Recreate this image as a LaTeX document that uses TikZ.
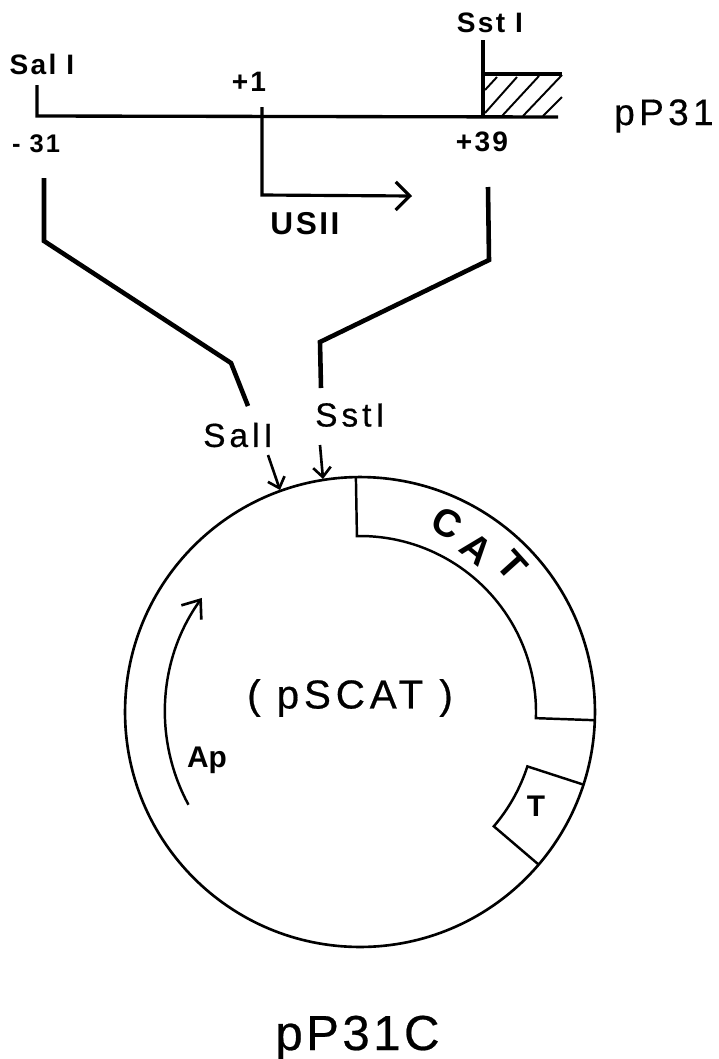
\documentclass[tikz,border=0pt]{standalone}
\usepackage{fontspec}
\setmainfont{Liberation Sans}
\newfontfamily\labelfont[LetterSpace=8]{Liberation Sans}
\newfontfamily\widefont[LetterSpace=12,FakeBold=0.5]{Liberation Sans}
\newfontfamily\hugefont[LetterSpace=7,FakeBold=0.5]{Liberation Sans}
\usetikzlibrary{arrows.meta, positioning, calc}
\tikzset{
  seqline/.style={line width=1.9pt, black},
  thinline/.style={line width=1.4pt, black},
  linker/.style={line width=2.6pt, black},
  hatchline/.style={line width=1.1pt, black},
  sitearrow/.style={line width=1.5pt, -{Straight Barb[length=5.5pt,width=10pt,line width=1.5pt]}},
  smalllabel/.style={font=\fontsize{16}{16}\labelfont\bfseries},
  boldlabel/.style={font=\fontsize{17}{17}\bfseries},
  catlabel/.style={font=\fontsize{22}{22}\bfseries, inner sep=0pt},
  sitelabel/.style={font=\fontsize{19}{19}\widefont},
  namelabel/.style={font=\fontsize{21}{21}\widefont},
}
\begin{document}
\begin{tikzpicture}[x=0.02cm, y=-0.02cm]
  \useasboundingbox (0,0) rectangle (718,1059);

  % Upper map -- pP31
  \coordinate (saltop) at (37,85);
  \coordinate (salbase) at (37,116);
  \coordinate (sstop) at (483,40);
  \coordinate (ssbase) at (483,117);
  \coordinate (lineend) at (558,117);
  \coordinate (boxtop) at (483,74);
  \coordinate (boxright) at (562,74);
  \coordinate (starttop) at (262,107);
  \coordinate (startbend) at (262,195);
  \coordinate (starttip) at (412,196);
  \draw[seqline] (saltop) -- (salbase) -- (lineend);
  \draw[seqline] (sstop) -- (ssbase);
  \draw[seqline] (boxtop) -- (boxright);
  \draw[thinline, line width=1.8pt, -{Straight Barb[length=8pt,width=16pt,line width=1.8pt]}]
       (starttop) -- (startbend) -- (starttip);

  % Hatching
  \draw[hatchline] (497,77) -- (485,90);
  \draw[hatchline] (517,77) -- (485,113);
  \draw[hatchline] (539,76) -- (502,116);
  \draw[hatchline] (562,75) -- (523,116);
  \draw[hatchline] (562,97) -- (543,116);

  % Labels of the upper map
  \node[smalllabel] (saltopl) at (42,64) {Sal I};
  \node[smalllabel] (sstopl) at (490,23) {Sst I};
  \node[smalllabel] (plusone) at (249,82) {+1};
  \node[smalllabel, font=\fontsize{14.5}{14.5}\labelfont\bfseries] (minusl) at (36,144) {- 31};
  \node[smalllabel] (plusl) at (482,142) {+39};
  \node[smalllabel, font=\fontsize{18}{18}\labelfont\bfseries] (usl) at (305,224) {USII};
  \node[namelabel, anchor=base] (ppname) at (664,125) {pP31};

  % Linker lines
  \coordinate (la) at (44,178);
  \coordinate (lb) at (44,241);
  \coordinate (lc) at (231,363);
  \coordinate (ld) at (248,406);
  \coordinate (ra) at (488,187);
  \coordinate (rb) at (489,260);
  \coordinate (rc) at (320,342);
  \coordinate (rd) at (321,388);
  \draw[linker] (la) -- (lb) -- (lc) -- (ld);
  \draw[linker] (ra) -- (rb) -- (rc) -- (rd);

  % Plasmid
  \coordinate (ctr) at (360,712);
  \node[circle, draw, thinline, line width=1.5pt, minimum size=9.4cm, inner sep=0pt] (ring) at (ctr) {};

  % CAT segment
  \draw[thinline] ($(ctr)+(-91:235)$) -- ($(ctr)+(-91:176)$)
       arc[start angle=-91, end angle=2, radius=176] -- ($(ctr)+(2:235)$);
  \node[catlabel, rotate=-28] (catc) at (447,523) {C};
  \node[catlabel, rotate=-39] (cata) at (477,549) {A};
  \node[catlabel, rotate=-48] (catt) at (512,565) {T};

  % T segment
  \draw[thinline] ($(ctr)+(18:234)$) -- ($(ctr)+(18:176)$)
       arc[start angle=18, end angle=40.5, radius=176] -- ($(ctr)+(40.5:234)$);
  \node[boldlabel] (tlabel) at (536,806) {T};

  % Ap arrow
  \draw[thinline, -{Straight Barb[length=9pt,width=14pt,line width=1.5pt]}]
       ($(ctr)+(-208.4:195)$) arc[start angle=-208.4, end angle=-144.2, radius=195];
  \node[boldlabel] (aplabel) at (207,760) {Ap};

  % Sites on the plasmid
  \node[sitelabel] (sallab) at (238,435) {SalI};
  \node[sitelabel] (sstlab) at (350,415) {SstI};
  \coordinate (salfrom) at (268,455);
  \coordinate (salto) at (280,490);
  \coordinate (sstfrom) at (320,445);
  \coordinate (sstto) at (323,479);
  \draw[sitearrow] (salfrom) -- (salto);
  \draw[sitearrow] (sstfrom) -- (sstto);

  % Names
  \node[font=\fontsize{23}{23}\widefont] (pscat) at (350,698) {( pSCAT )};
  \node[font=\fontsize{28}{28}\hugefont, anchor=base] (pcname) at (357.5,1050) {pP31C};
\end{tikzpicture}
\end{document}
